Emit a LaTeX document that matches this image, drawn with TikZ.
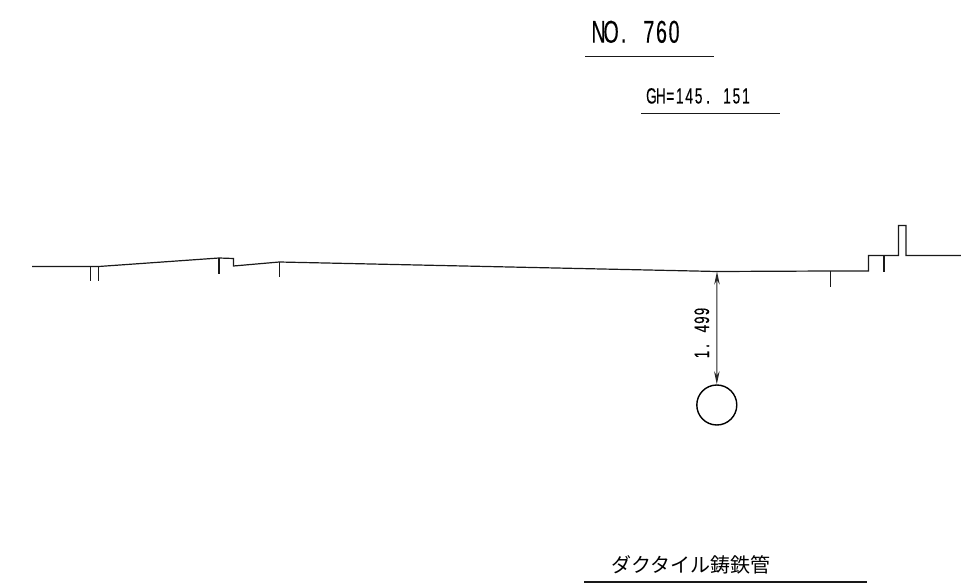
\documentclass[tikz,border=0pt]{standalone}
\usepackage{fontspec}
\usetikzlibrary{arrows.meta}
\newfontfamily\latfont[FakeStretch=0.62,FakeBold=0.3]{Liberation Sans}
\newfontfamily\jpfont{Noto Sans CJK JP}
% fixed-pitch setting of a string: every character in a cell of width #1
\newdimen\monocell
\def\mono#1#2{\monocell=#1pt\relax\monoloop#2\monoend}
\def\monoend{\monoend}
\def\monoloop#1{\ifx#1\monoend\else\hbox to\monocell{\hss#1\hss}\expandafter\monoloop\fi}
\tikzset{
  x=1pt,y=-1pt,
  line/.style={draw=black!90,line width=1.2pt},
  thinline/.style={draw=black!90,line width=1.15pt},
  lab/.style={inner sep=0pt,anchor=base west,text=black},
  dim/.style={draw=black!85,line width=1pt,{Stealth[length=13pt,width=5.5pt]}-{Stealth[length=13pt,width=5.5pt]}}
}
\begin{document}
\begin{tikzpicture}
\useasboundingbox (0,0) rectangle (961,585);
% ground profile
\coordinate (g0) at (32,266.5);
\coordinate (g1) at (90.7,266.5);
\coordinate (g2) at (98.7,266.5);
\coordinate (g3) at (219,258);
\coordinate (g4) at (233.5,258.5);
\coordinate (g5) at (233.5,266);
\coordinate (g6) at (279.3,262);
\coordinate (g7) at (717,271.5);
\coordinate (g8) at (830.7,271);
\coordinate (g9) at (868.5,271);
\coordinate (g10) at (868.5,255.5);
\coordinate (g11) at (884,255.5);
\coordinate (g12) at (898.5,255.5);
\coordinate (g13) at (898.5,225.5);
\coordinate (g14) at (906,225.5);
\coordinate (g15) at (906,255.5);
\coordinate (g16) at (961,255.5);
\draw[line,line join=miter] (g0)--(g1)--(g2)--(g3)--(g4)--(g5)--(g6)--(g7)--(g8)--(g9)--(g10)--(g11)--(g12)--(g13)--(g14)--(g15)--(g16);
% ticks
\coordinate (t1) at (90.7,281.5);
\coordinate (t2) at (98.7,281.5);
\coordinate (t3) at (219,274);
\coordinate (t4) at (279.3,277);
\coordinate (t8) at (830.7,287);
\coordinate (t11) at (884,272);
\foreach \a/\b in {g1/t1,g2/t2,g3/t3,g6/t4,g8/t8,g11/t11}{\draw[thinline] (\a)--(\b);}
% pipe
\node[circle,draw=black,line width=1.4pt,minimum size=40pt,inner sep=0pt] (pipe) at (716.8,405) {};
\draw[dim] (g7)--(pipe.north);
\node[rotate=90,inner sep=0pt,text=black,anchor=base] (dimtext) at (709,333) {\latfont\fontsize{21}{21}\selectfont\mono{8.6}{1.~499}};
% titles
\node[lab] (no) at (592,42.7) {\latfont\fontsize{31.5}{31.5}\selectfont\mono{12.6}{NO.~760}};
\coordinate (na) at (585,56.5); \coordinate (nb) at (713.5,56.5);
\draw[thinline] (na)--(nb);
\node[lab] (gh) at (646.5,103.5) {\latfont\fontsize{22}{22}\selectfont\mono{9.45}{GH=145.~151}};
\coordinate (ga) at (641,113.5); \coordinate (gb) at (780,113.5);
\draw[thinline] (ga)--(gb);
\node[lab] (pipetext) at (611.5,572) {\jpfont\fontsize{20}{20}\selectfont ダクタイル鋳鉄管};
\coordinate (pa) at (584,582); \coordinate (pb) at (867,582);
\draw[thinline] (pa)--(pb);
\end{tikzpicture}
\end{document}
